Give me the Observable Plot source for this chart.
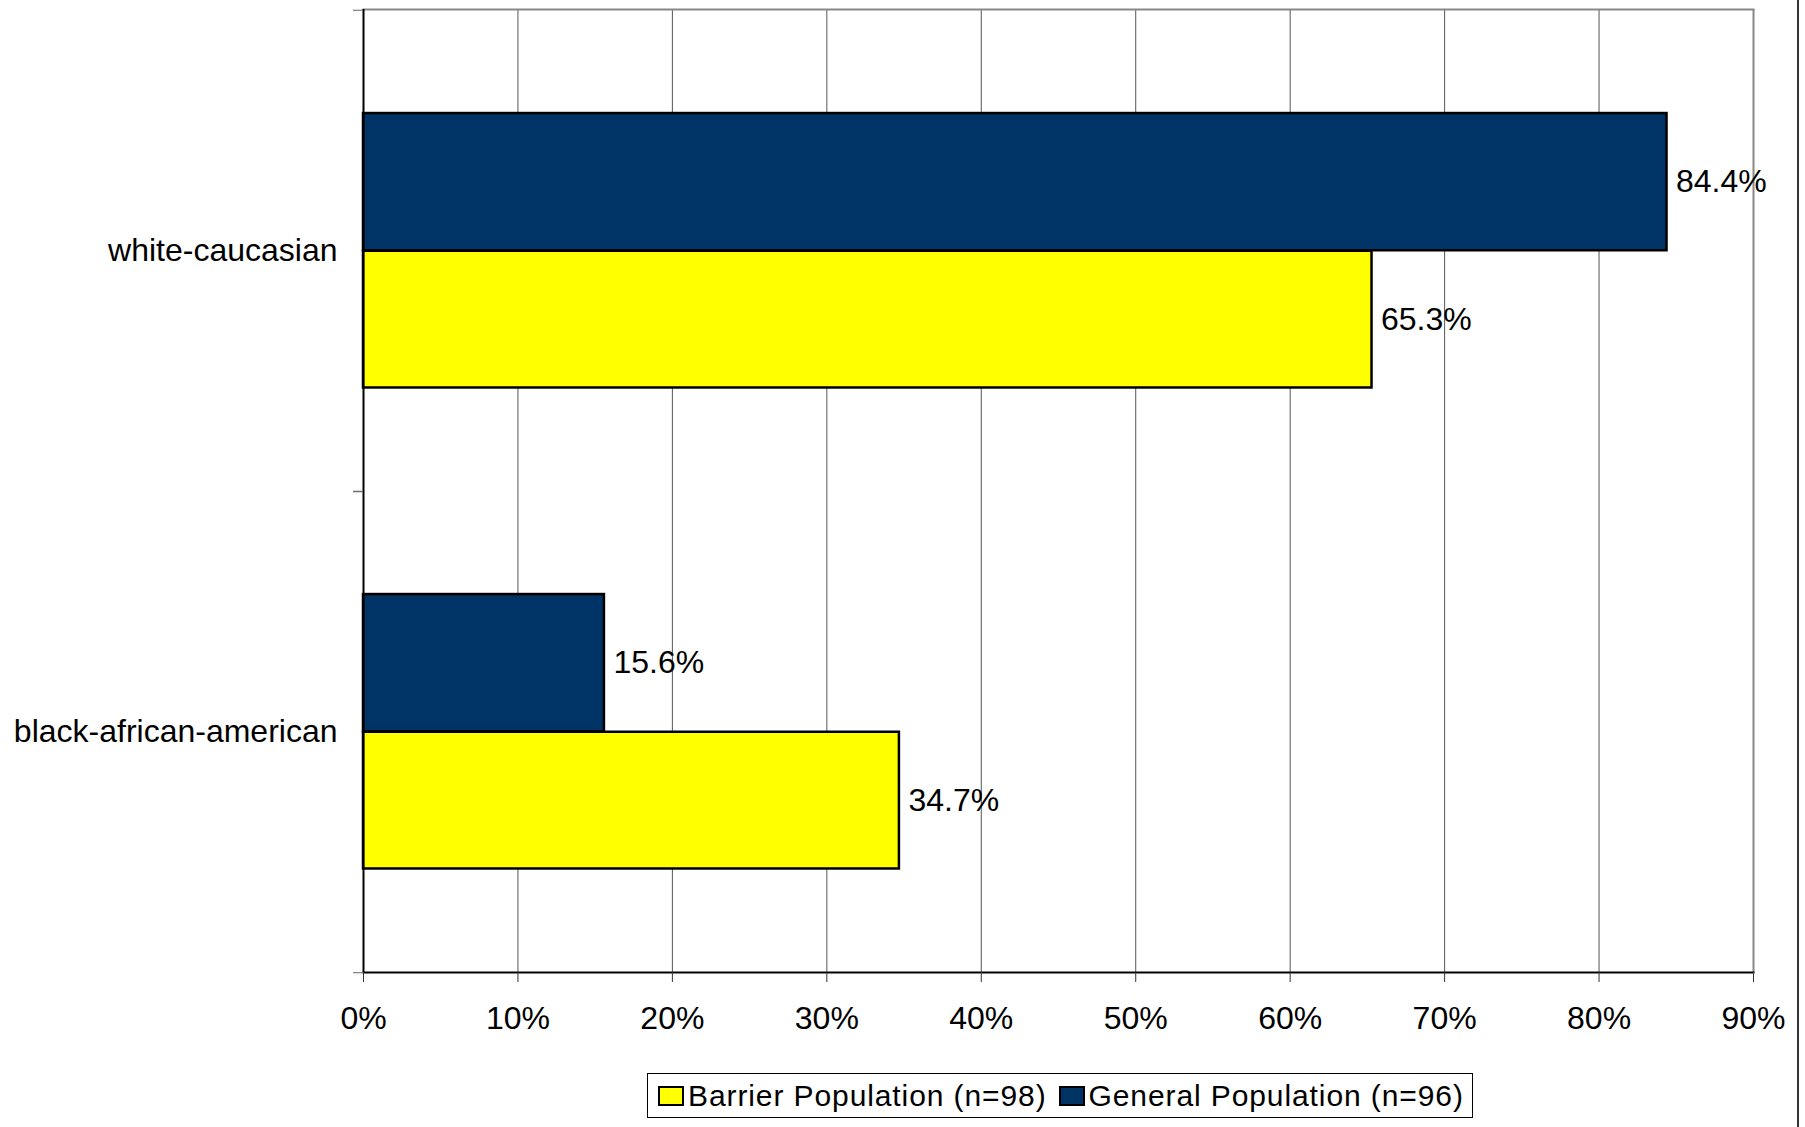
<!DOCTYPE html>
<html><head><meta charset="utf-8">
<script src="https://cdn.jsdelivr.net/npm/d3@7"></script>
<script src="https://cdn.jsdelivr.net/npm/@observablehq/plot@0.6"></script>
<style>
html,body{margin:0;padding:0;background:#fff;}
#wrap{position:relative;width:1805px;height:1127px;overflow:hidden;font-family:"Liberation Sans",Arial,sans-serif;background:#fff;}
#frameRight{position:absolute;left:1797px;top:0;width:2px;height:1127px;background:#333;}
#legend{position:absolute;left:647px;top:1073px;width:826px;height:45px;border:1px solid #000;display:flex;align-items:center;padding-left:10px;box-sizing:border-box;gap:12px;}
.item{display:flex;align-items:center;font-size:30px;color:#000;white-space:nowrap;letter-spacing:0.9px;}
.sw{width:22px;height:16px;border:2px solid #000;margin-right:4px;flex:none;}
</style></head><body>
<div id="wrap"><div id="chart"></div><div id="legend"></div><div id="frameRight"></div></div>
<script>
const categories = ["white-caucasian", "black-african-american"];
const seriesNames = ["Barrier Population (n=98)", "General Population (n=96)"];
const seriesColors = ["#FFFF00", "#003366"];
const barrierValues = [65.3, 34.7];
const generalValues = [84.4, 15.6];
const xTicks = [0, 10, 20, 30, 40, 50, 60, 70, 80, 90];

const barrier = categories.map((c, i) => ({category: c, series: seriesNames[0], value: barrierValues[i]}));
const general = categories.map((c, i) => ({category: c, series: seriesNames[1], value: generalValues[i]}));

const H = 1060, mT = 9, mB = 88;
const band = (H - mT - mB) / categories.length;

const chart = Plot.plot({
  width: 1805,
  height: H,
  marginLeft: 363,
  marginRight: 52,
  marginTop: mT,
  marginBottom: mB,
  style: {fontFamily: "'Liberation Sans', Arial, sans-serif", background: "white", color: "black"},
  x: {domain: [0, 90], label: null},
  y: {domain: categories, padding: 0, label: null},
  color: {domain: seriesNames, range: seriesColors},
  marks: [
    Plot.ruleX(xTicks.slice(1, -1), {stroke: "#555", strokeWidth: 1}),
    Plot.ruleX([90], {stroke: "#888", strokeWidth: 2}),
    Plot.frame({anchor: "top", stroke: "#888", strokeWidth: 2}),
    Plot.barX(barrier, {x: "value", y: "category", fill: "series", stroke: "black", strokeWidth: 2.5, insetTop: band * 0.5, insetBottom: band * 0.215}),
    Plot.barX(general, {x: "value", y: "category", fill: "series", stroke: "black", strokeWidth: 2.5, insetTop: band * 0.214, insetBottom: band * 0.5}),
    Plot.ruleX([0], {stroke: "black", strokeWidth: 2}),
    Plot.frame({anchor: "bottom", stroke: "black", strokeWidth: 2}),
    Plot.text(general, {x: "value", y: "category", text: d => d.value.toFixed(1) + "%", dx: 9, dy: -band * 0.1428, textAnchor: "start", fontSize: 32, fill: "black"}),
    Plot.text(barrier, {x: "value", y: "category", text: d => d.value.toFixed(1) + "%", dx: 9, dy: band * 0.1428, textAnchor: "start", fontSize: 32, fill: "black"}),
    Plot.axisX({ticks: xTicks, tickFormat: d => d + "%", tickSize: 10, tickPadding: 24, fontSize: 32, label: null, stroke: "#333"}),
    Plot.axisY({tickSize: 0, tickPadding: 26, fontSize: 32, label: null}),
    Plot.axisY({tickSize: 10, tickFormat: () => "", dy: -band / 2, label: null, stroke: "#666"}),
    Plot.axisY({tickSize: 10, tickFormat: () => "", dy: band / 2, label: null, stroke: "#666"})
  ]
});
document.getElementById("chart").appendChild(chart);

const legend = document.getElementById("legend");
seriesNames.forEach((name, i) => {
  const item = document.createElement("div");
  item.className = "item";
  const sw = document.createElement("div");
  sw.className = "sw";
  sw.style.background = seriesColors[i];
  item.appendChild(sw);
  const t = document.createElement("span");
  t.textContent = name;
  item.appendChild(t);
  legend.appendChild(item);
});
</script>
</body></html>
